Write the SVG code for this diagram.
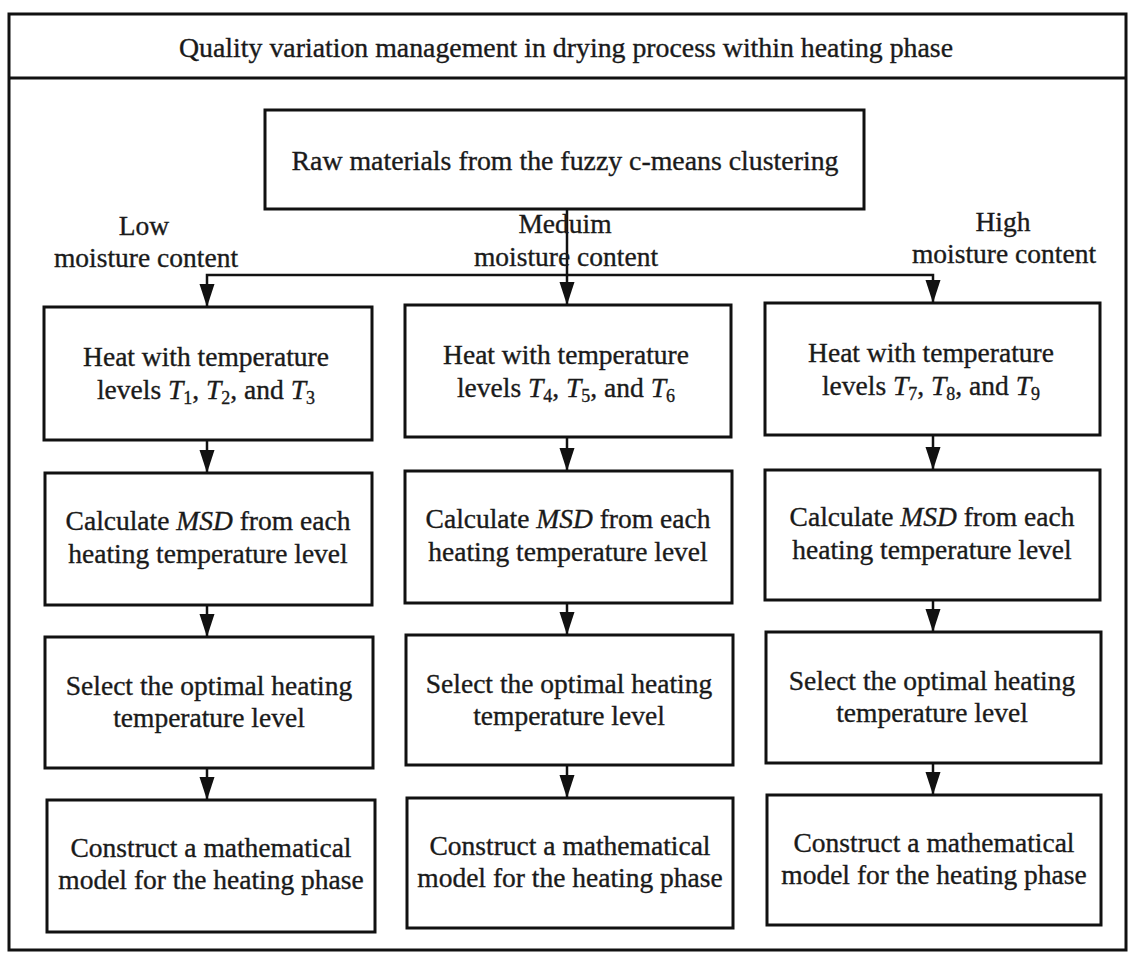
<svg xmlns="http://www.w3.org/2000/svg" width="1129" height="955" viewBox="0 0 1129 955">
<style>
.box{fill:#fff;stroke:#111;stroke-width:3}
.frame{fill:#fff;stroke:#111;stroke-width:3}
.t{font-family:"Liberation Serif","Times New Roman",serif;font-size:27.5px;fill:#1a1a1a;stroke:#1a1a1a;stroke-width:0.35;text-anchor:middle}
.it{font-style:italic}
.sub{font-size:18px}
.conn{fill:none;stroke:#111;stroke-width:2.5}
</style>
<defs>
<marker id="arrd" markerUnits="userSpaceOnUse" markerWidth="24" markerHeight="16" refX="23" refY="8" orient="auto" viewBox="0 0 24 16">
<path d="M0,0.5 L23,8 L0,15.5 Z" fill="#111"/>
</marker>
</defs>
<rect width="1129" height="955" fill="#fff"/>
<g id="frame">
<rect class="frame" x="9" y="14" width="1117" height="936"/>
<line x1="9" y1="78" x2="1126" y2="78" stroke="#111" stroke-width="3"/>
<text class="t" x="566" y="57" font-size="28" textLength="774" lengthAdjust="spacingAndGlyphs">Quality variation management in drying process within heating phase</text>
</g>
<g id="connectors">
<path class="conn" d="M567,209 V305" marker-end="url(#arrd)"/>
<path class="conn" d="M567,275 H207 V307" marker-end="url(#arrd)"/>
<path class="conn" d="M567,275 H933 V303" marker-end="url(#arrd)"/>
<path class="conn" d="M207,440 V473" marker-end="url(#arrd)"/>
<path class="conn" d="M207,605 V637" marker-end="url(#arrd)"/>
<path class="conn" d="M207,768 V800" marker-end="url(#arrd)"/>
<path class="conn" d="M567,437 V471" marker-end="url(#arrd)"/>
<path class="conn" d="M567,603 V635" marker-end="url(#arrd)"/>
<path class="conn" d="M567,765 V798" marker-end="url(#arrd)"/>
<path class="conn" d="M933,435 V470" marker-end="url(#arrd)"/>
<path class="conn" d="M933,600 V632" marker-end="url(#arrd)"/>
<path class="conn" d="M933,763 V795" marker-end="url(#arrd)"/>
</g>
<g id="raw">
<rect class="box" x="265" y="110" width="599" height="99"/>
<text class="t" x="565" y="170" font-size="28" textLength="547" lengthAdjust="spacingAndGlyphs">Raw materials from the fuzzy c-means clustering</text>
</g>
<g id="label-low">
<text class="t" x="144" y="235">Low</text>
<text class="t" x="146" y="267">moisture content</text>
</g>
<g id="label-medium">
<text class="t" x="565" y="233">Meduim</text>
<text class="t" x="566" y="266">moisture content</text>
</g>
<g id="label-high">
<text class="t" x="1003" y="231">High</text>
<text class="t" x="1004" y="263">moisture content</text>
</g>
<g id="heat-low">
<rect class="box" x="44" y="307" width="328" height="133"/>
<text class="t" x="206" y="366">Heat with temperature</text>
<text class="t" x="206" y="399">levels <tspan class="it">T</tspan><tspan class="sub" dy="5">1</tspan><tspan dy="-5">, </tspan><tspan class="it">T</tspan><tspan class="sub" dy="5">2</tspan><tspan dy="-5">, and </tspan><tspan class="it">T</tspan><tspan class="sub" dy="5">3</tspan></text>
</g>
<g id="heat-medium">
<rect class="box" x="405" y="305" width="326" height="132"/>
<text class="t" x="566" y="364">Heat with temperature</text>
<text class="t" x="566" y="397">levels <tspan class="it">T</tspan><tspan class="sub" dy="5">4</tspan><tspan dy="-5">, </tspan><tspan class="it">T</tspan><tspan class="sub" dy="5">5</tspan><tspan dy="-5">, and </tspan><tspan class="it">T</tspan><tspan class="sub" dy="5">6</tspan></text>
</g>
<g id="heat-high">
<rect class="box" x="765" y="303" width="335" height="132"/>
<text class="t" x="931" y="362">Heat with temperature</text>
<text class="t" x="931" y="395">levels <tspan class="it">T</tspan><tspan class="sub" dy="5">7</tspan><tspan dy="-5">, </tspan><tspan class="it">T</tspan><tspan class="sub" dy="5">8</tspan><tspan dy="-5">, and </tspan><tspan class="it">T</tspan><tspan class="sub" dy="5">9</tspan></text>
</g>
<g id="msd-low">
<rect class="box" x="45" y="473" width="327" height="132"/>
<text class="t" x="208" y="530">Calculate <tspan class="it">MSD</tspan> from each</text>
<text class="t" x="208" y="563">heating temperature level</text>
</g>
<g id="msd-medium">
<rect class="box" x="405" y="471" width="327" height="132"/>
<text class="t" x="568" y="528">Calculate <tspan class="it">MSD</tspan> from each</text>
<text class="t" x="568" y="561">heating temperature level</text>
</g>
<g id="msd-high">
<rect class="box" x="765" y="470" width="335" height="130"/>
<text class="t" x="932" y="526">Calculate <tspan class="it">MSD</tspan> from each</text>
<text class="t" x="932" y="559">heating temperature level</text>
</g>
<g id="select-low">
<rect class="box" x="45" y="637" width="328" height="131"/>
<text class="t" x="209" y="695">Select the optimal heating</text>
<text class="t" x="209" y="727">temperature level</text>
</g>
<g id="select-medium">
<rect class="box" x="406" y="635" width="327" height="130"/>
<text class="t" x="569" y="693">Select the optimal heating</text>
<text class="t" x="569" y="725">temperature level</text>
</g>
<g id="select-high">
<rect class="box" x="766" y="632" width="335" height="131"/>
<text class="t" x="932" y="690">Select the optimal heating</text>
<text class="t" x="932" y="722">temperature level</text>
</g>
<g id="model-low">
<rect class="box" x="47" y="800" width="328" height="132"/>
<text class="t" x="211" y="857">Construct a mathematical</text>
<text class="t" x="211" y="889">model for the heating phase</text>
</g>
<g id="model-medium">
<rect class="box" x="407" y="798" width="326" height="130"/>
<text class="t" x="570" y="855">Construct a mathematical</text>
<text class="t" x="570" y="887">model for the heating phase</text>
</g>
<g id="model-high">
<rect class="box" x="767" y="795" width="334" height="130"/>
<text class="t" x="934" y="852">Construct a mathematical</text>
<text class="t" x="934" y="884">model for the heating phase</text>
</g>
</svg>
